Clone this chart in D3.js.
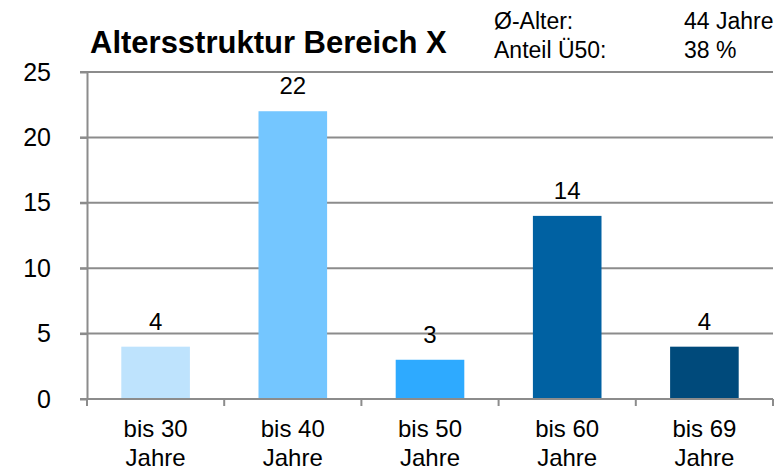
<!DOCTYPE html>
<html>
<head>
<meta charset="utf-8">
<script src="https://cdn.jsdelivr.net/npm/d3@7"></script>
<style>
    body { margin: 0; background: #fff; }
    text { font-family: "Liberation Sans", Arial, sans-serif; fill: #000; }
    .grid line { stroke: #8c8c8c; stroke-width: 2; }
    .axis path, .axis line { stroke: #8c8c8c; stroke-width: 2; }
</style>
</head>
<body>
<div id="chart"></div>
<script>

// Data
let categories = ["bis 30 Jahre", "bis 40 Jahre", "bis 50 Jahre", "bis 60 Jahre", "bis 69 Jahre"];
let values = [4, 22, 3, 14, 4];
let yTicks = [0, 5, 10, 15, 20, 25];
let infoLabels = ["Ø-Alter:", "Anteil Ü50:"];
let infoValues = ["44 Jahre", "38 %"];
let title = "Altersstruktur Bereich X";

let barColors = ["#bee3fd", "#74c6ff", "#2eaaff", "#0061a2", "#004a7b"];

let width = 782, height = 471;
let margin = {top: 72, right: 9, bottom: 72, left: 87};

let svg = d3.select("#chart").append("svg")
    .attr("width", width)
    .attr("height", height);

// Scales
let x = d3.scaleBand()
    .domain(categories)
    .range([margin.left, width - margin.right])
    .paddingInner(0.5)
    .paddingOuter(0.25);

let y = d3.scaleLinear()
    .domain([0, 25])
    .range([height - margin.bottom, margin.top]);

let color = d3.scaleOrdinal()
    .domain(categories)
    .range(barColors);

// Gridlines
svg.append("g")
    .attr("class", "grid")
    .selectAll("line")
    .data(yTicks)
    .enter().append("line")
    .attr("x1", margin.left - 7)
    .attr("x2", width - margin.right)
    .attr("y1", d => y(d))
    .attr("y2", d => y(d));

// Y axis
let yAxis = d3.axisLeft(y)
    .tickValues(yTicks)
    .tickSize(7)
    .tickPadding(29)
    .tickSizeOuter(0);

svg.append("g")
    .attr("class", "axis y-axis")
    .attr("transform", "translate(" + margin.left + ",0)")
    .call(yAxis)
    .selectAll("text")
    .style("font-size", "25px");

// Bars
svg.selectAll(".bar")
    .data(values)
    .enter().append("rect")
    .attr("class", "bar")
    .attr("x", (d, i) => x(categories[i]))
    .attr("width", x.bandwidth())
    .attr("y", d => y(d))
    .attr("height", d => y(0) - y(d))
    .attr("fill", (d, i) => color(categories[i]));

// X axis (band boundaries as ticks)
let xAxisGroup = svg.append("g")
    .attr("class", "axis x-axis");

xAxisGroup.append("line")
    .attr("x1", margin.left)
    .attr("x2", width - margin.right)
    .attr("y1", y(0))
    .attr("y2", y(0));

let boundaries = categories.map(c => x(c) - x.step() * x.paddingInner() / 2);
boundaries.push(width - margin.right);

xAxisGroup.selectAll(".xtick")
    .data(boundaries)
    .enter().append("line")
    .attr("class", "xtick")
    .attr("x1", d => d)
    .attr("x2", d => d)
    .attr("y1", y(0))
    .attr("y2", y(0) + 7);

let xLabels = svg.append("g")
    .selectAll("text")
    .data(categories)
    .enter().append("text")
    .attr("text-anchor", "middle")
    .style("font-size", "24px")
    .attr("x", d => x(d) + x.bandwidth() / 2)
    .attr("y", y(0) + 38);

xLabels.each(function (d) {
    let words = d.split(" ");
    let el = d3.select(this);
    el.append("tspan")
        .attr("x", x(d) + x.bandwidth() / 2)
        .text(words.slice(0, 2).join(" "));
    el.append("tspan")
        .attr("x", x(d) + x.bandwidth() / 2)
        .attr("dy", 29)
        .text(words[2]);
});

// Value labels
svg.selectAll(".value-label")
    .data(values)
    .enter().append("text")
    .attr("class", "value-label")
    .attr("text-anchor", "middle")
    .style("font-size", "24px")
    .attr("x", (d, i) => x(categories[i]) + x.bandwidth() / 2)
    .attr("y", d => y(d) - 17)
    .text(d => d);

// Title
svg.append("text")
    .attr("x", 90)
    .attr("y", 53)
    .style("font-size", "31px")
    .style("font-weight", "bold")
    .text(title);

// Info block
svg.selectAll(".info-label")
    .data(infoLabels)
    .enter().append("text")
    .attr("class", "info-label")
    .attr("x", 494)
    .attr("y", (d, i) => 29 + i * 29)
    .style("font-size", "23px")
    .text(d => d);

svg.selectAll(".info-value")
    .data(infoValues)
    .enter().append("text")
    .attr("class", "info-value")
    .attr("x", 684)
    .attr("y", (d, i) => 29 + i * 29)
    .style("font-size", "23px")
    .text(d => d);

</script>
</body>
</html>
